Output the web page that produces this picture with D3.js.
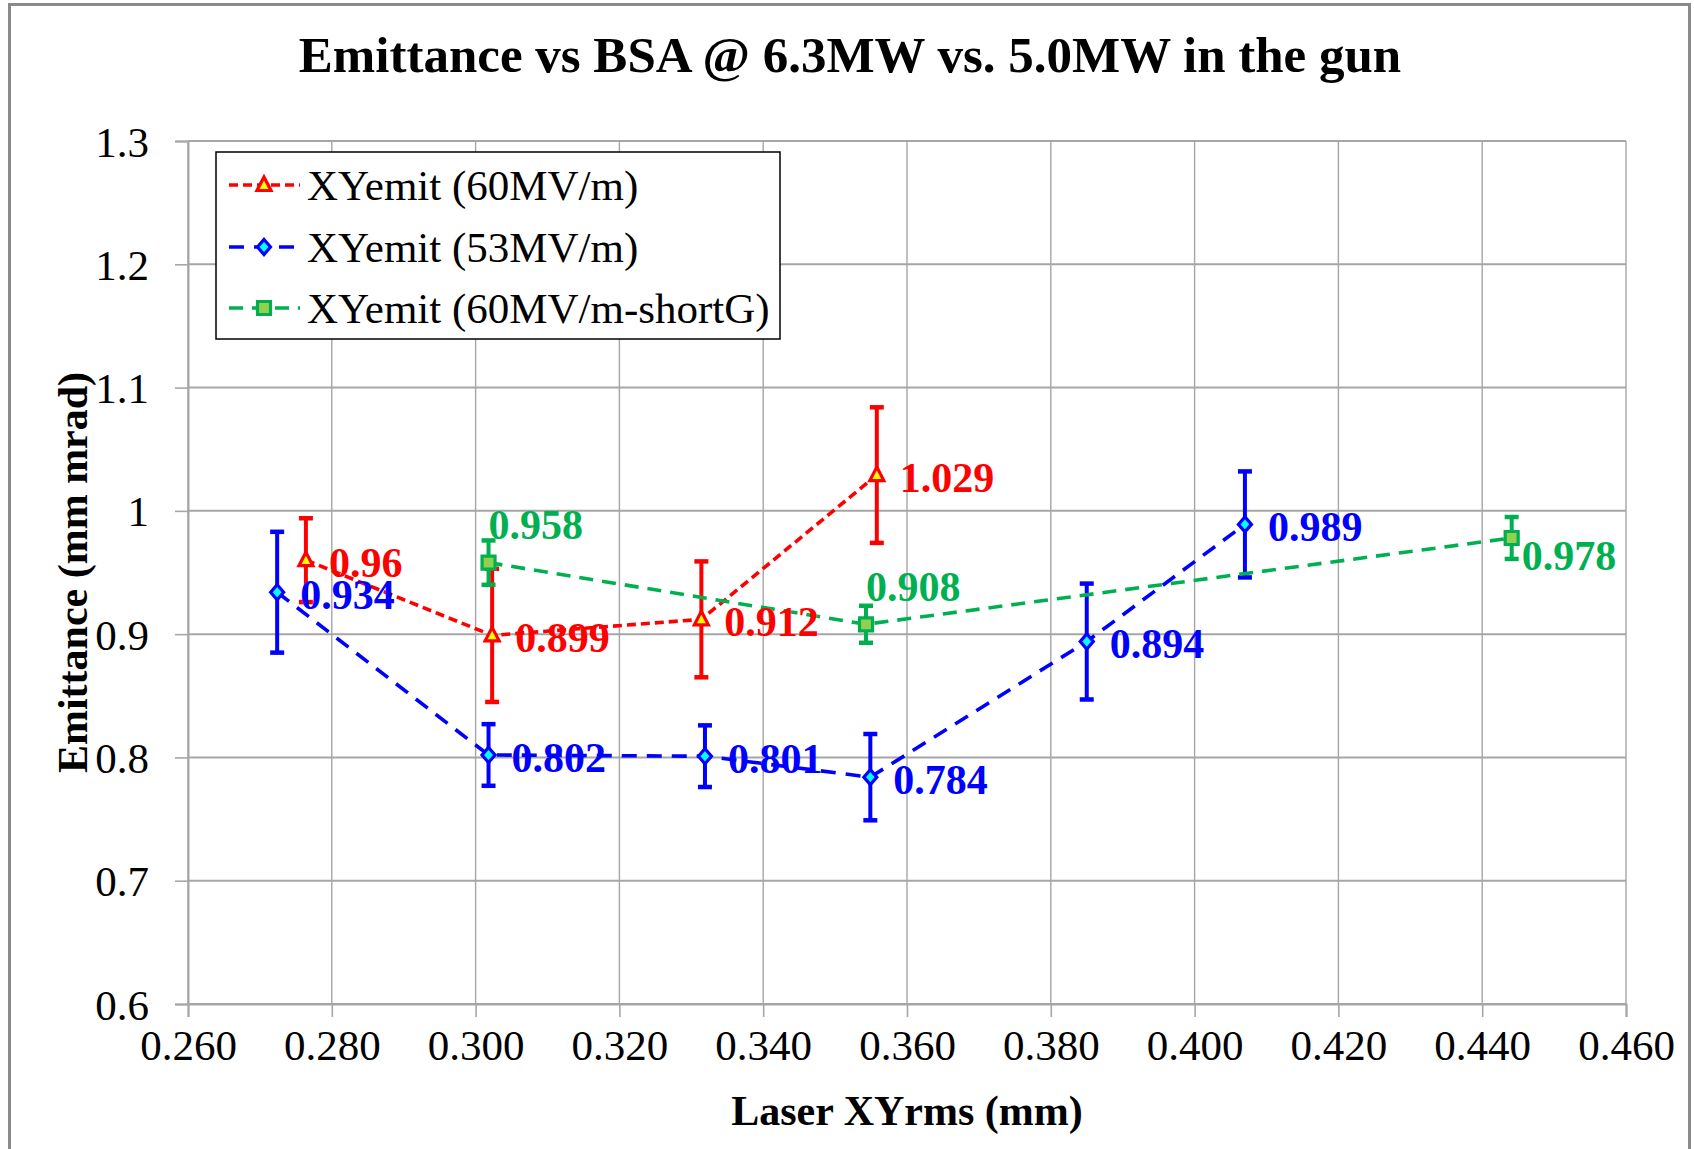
<!DOCTYPE html>
<html>
<head>
<meta charset="utf-8">
<script src="https://cdn.jsdelivr.net/npm/d3@7"></script>
<style>
  html, body { margin: 0; padding: 0; background: #fff; }
  svg { display: block; }
  text { font-family: "Liberation Serif", "Times New Roman", serif; }
</style>
</head>
<body>
<svg id="chart" width="1694" height="1149"></svg>
<script>
// ---- data ----
const xTicks = [0.26, 0.28, 0.30, 0.32, 0.34, 0.36, 0.38, 0.40, 0.42, 0.44, 0.46];
const yTicks = [0.6, 0.7, 0.8, 0.9, 1.0, 1.1, 1.2, 1.3];

// XYemit (60MV/m)
const red_x   = [0.2764, 0.3023, 0.3314, 0.3558];
const red_y   = [0.960, 0.899, 0.912, 1.029];
const red_err = [0.034, 0.054, 0.047, 0.055];

// XYemit (53MV/m)
const blue_x   = [0.2724, 0.3018, 0.3319, 0.3549, 0.3850, 0.4070];
const blue_y   = [0.934, 0.802, 0.801, 0.784, 0.894, 0.989];
const blue_err = [0.049, 0.025, 0.025, 0.035, 0.047, 0.043];

// XYemit (60MV/m-shortG)
const green_x   = [0.3018, 0.3543, 0.4441];
const green_y   = [0.958, 0.908, 0.978];
const green_err = [0.018, 0.015, 0.017];

const seriesNames = ["XYemit (60MV/m)", "XYemit (53MV/m)", "XYemit (60MV/m-shortG)"];

// ---- layout ----
const svg = d3.select("#chart");
const plot = { left: 188, right: 1626, top: 141, bottom: 1004 };

const x = d3.scaleLinear().domain([0.26, 0.46]).range([plot.left, plot.right]);
const y = d3.scaleLinear().domain([0.6, 1.3]).range([plot.bottom, plot.top]);

// outer frame (open at the bottom edge)
svg.append("rect")
  .attr("x", 9.5).attr("y", 4.5).attr("width", 1680).attr("height", 1300)
  .attr("fill", "#fff").attr("stroke", "#8a8a8a").attr("stroke-width", 3);

// title
svg.append("text")
  .attr("x", 850).attr("y", 72)
  .attr("text-anchor", "middle")
  .attr("font-size", 51).attr("font-weight", "bold")
  .text("Emittance vs BSA @ 6.3MW vs. 5.0MW in the gun");

// gridlines
const grid = svg.append("g");
grid.selectAll("line.h").data(yTicks).join("line")
  .attr("x1", plot.left).attr("x2", plot.right)
  .attr("y1", d => y(d)).attr("y2", d => y(d))
  .attr("stroke", "#a6a6a6").attr("stroke-width", 2);
grid.selectAll("line.v").data(xTicks).join("line")
  .attr("x1", d => x(d)).attr("x2", d => x(d))
  .attr("y1", plot.top).attr("y2", plot.bottom)
  .attr("stroke", "#a6a6a6").attr("stroke-width", 1.4);

// axes
const xAxis = d3.axisBottom(x).tickValues(xTicks).tickFormat(d3.format(".3f")).tickSize(13).tickPadding(12);
const yAxis = d3.axisLeft(y).tickValues(yTicks).tickFormat(d => d === 1 ? "1" : d3.format(".1f")(d)).tickSize(13).tickPadding(26);

const gx = svg.append("g").attr("transform", `translate(0,${plot.bottom})`).call(xAxis);
const gy = svg.append("g").attr("transform", `translate(${plot.left},0)`).call(yAxis);
[gx, gy].forEach(g => {
  g.select(".domain").attr("stroke", "#a6a6a6").attr("stroke-width", 2);
  g.selectAll(".tick line").attr("stroke", "#a6a6a6").attr("stroke-width", 1.6);
  g.selectAll(".tick text")
    .attr("fill", "#000").attr("font-size", 43)
    .attr("font-family", "'Liberation Serif', 'Times New Roman', serif");
});
gx.selectAll(".tick text").attr("dy", "0.71em");
gy.selectAll(".tick text").attr("dy", "0.35em");

// axis titles
svg.append("text")
  .attr("x", (plot.left + plot.right) / 2).attr("y", 1125)
  .attr("text-anchor", "middle").attr("font-size", 42).attr("font-weight", "bold")
  .text("Laser XYrms (mm)");
svg.append("text")
  .attr("transform", `translate(87,${(plot.top + plot.bottom) / 2}) rotate(-90)`)
  .attr("text-anchor", "middle").attr("font-size", 42).attr("font-weight", "bold")
  .text("Emittance (mm mrad)");

// ---- series ----
const series = [
  { name: seriesNames[0], xs: red_x, ys: red_y, es: red_err,
    color: "#ff0000", dash: "9,5", marker: "triangle", fill: "#ffff00", mstroke: "#ff0000" },
  { name: seriesNames[1], xs: blue_x, ys: blue_y, es: blue_err,
    color: "#0000ff", dash: "15,10", marker: "diamond", fill: "#00ffff", mstroke: "#0000ff" },
  { name: seriesNames[2], xs: green_x, ys: green_y, es: green_err,
    color: "#00b050", dash: "14,9", marker: "square", fill: "#92d050", mstroke: "#00b050" }
];

function markerPath(type) {
  if (type === "triangle") return "M0,-8 L7,5.5 L-7,5.5 Z";
  if (type === "diamond") return "M0,-7.5 L6.5,0 L0,7.5 L-6.5,0 Z";
  return "M-6.5,-6.5 L6.5,-6.5 L6.5,6.5 L-6.5,6.5 Z";
}

const line = d3.line().x(d => x(d.x)).y(d => y(d.y));

series.forEach(s => {
  const pts = s.xs.map((v, i) => ({ x: v, y: s.ys[i], e: s.es[i] }));
  const g = svg.append("g");
  g.append("path").datum(pts)
    .attr("d", line).attr("fill", "none")
    .attr("stroke", s.color).attr("stroke-width", 3.6)
    .attr("stroke-dasharray", s.dash);
  const eb = g.selectAll("g.eb").data(pts).join("g");
  eb.append("line")
    .attr("x1", d => x(d.x)).attr("x2", d => x(d.x))
    .attr("y1", d => y(d.y + d.e)).attr("y2", d => y(d.y - d.e))
    .attr("stroke", s.color).attr("stroke-width", 4);
  [1, -1].forEach(sign => {
    eb.append("line")
      .attr("x1", d => x(d.x) - 7).attr("x2", d => x(d.x) + 7)
      .attr("y1", d => y(d.y + sign * d.e)).attr("y2", d => y(d.y + sign * d.e))
      .attr("stroke", s.color).attr("stroke-width", 4.5);
  });
  g.selectAll("path.mk").data(pts).join("path")
    .attr("transform", d => `translate(${x(d.x)},${y(d.y)})`)
    .attr("d", markerPath(s.marker))
    .attr("fill", s.fill).attr("stroke", s.mstroke).attr("stroke-width", 3.2);
  s.pts = pts;
});

// ---- value labels ----
const labelFmt = v => String(+v.toFixed(3));
const labels = svg.append("g");
// red and blue labels sit to the right of each point
series.slice(0, 2).forEach(s => {
  labels.selectAll(null).data(s.pts).join("text")
    .attr("x", d => x(d.x) + 23).attr("y", d => y(d.y) + 2)
    .attr("dy", "0.35em")
    .attr("font-size", 42).attr("font-weight", "bold").attr("fill", s.color)
    .text(d => labelFmt(d.y));
});
// green labels: above the first two points, lower-right of the last
const gs = series[2];
labels.selectAll(null).data(gs.pts).join("text")
  .attr("x", (d, i) => x(d.x) + (i < 2 ? 0 : 10))
  .attr("y", (d, i) => y(d.y) + (i < 2 ? -38 : 17))
  .attr("dy", "0.35em")
  .attr("font-size", 42).attr("font-weight", "bold").attr("fill", gs.color)
  .text(d => labelFmt(d.y));

// ---- legend ----
const lg = svg.append("g");
lg.append("rect")
  .attr("x", 216).attr("y", 152).attr("width", 564).attr("height", 187)
  .attr("fill", "#fff").attr("stroke", "#000").attr("stroke-width", 1.5);
const rowY = [185, 247, 308];
series.forEach((s, i) => {
  const ry = rowY[i];
  lg.append("line")
    .attr("x1", 229).attr("x2", 300).attr("y1", ry).attr("y2", ry)
    .attr("stroke", s.color).attr("stroke-width", 3.6)
    .attr("stroke-dasharray", s.dash);
  lg.append("path")
    .attr("transform", `translate(264,${ry})`)
    .attr("d", markerPath(s.marker))
    .attr("fill", s.fill).attr("stroke", s.mstroke).attr("stroke-width", 3.2);
  lg.append("text")
    .attr("x", 307).attr("y", ry).attr("dy", "0.35em")
    .attr("font-size", 43).attr("fill", "#000")
    .text(s.name);
});
</script>
</body>
</html>
